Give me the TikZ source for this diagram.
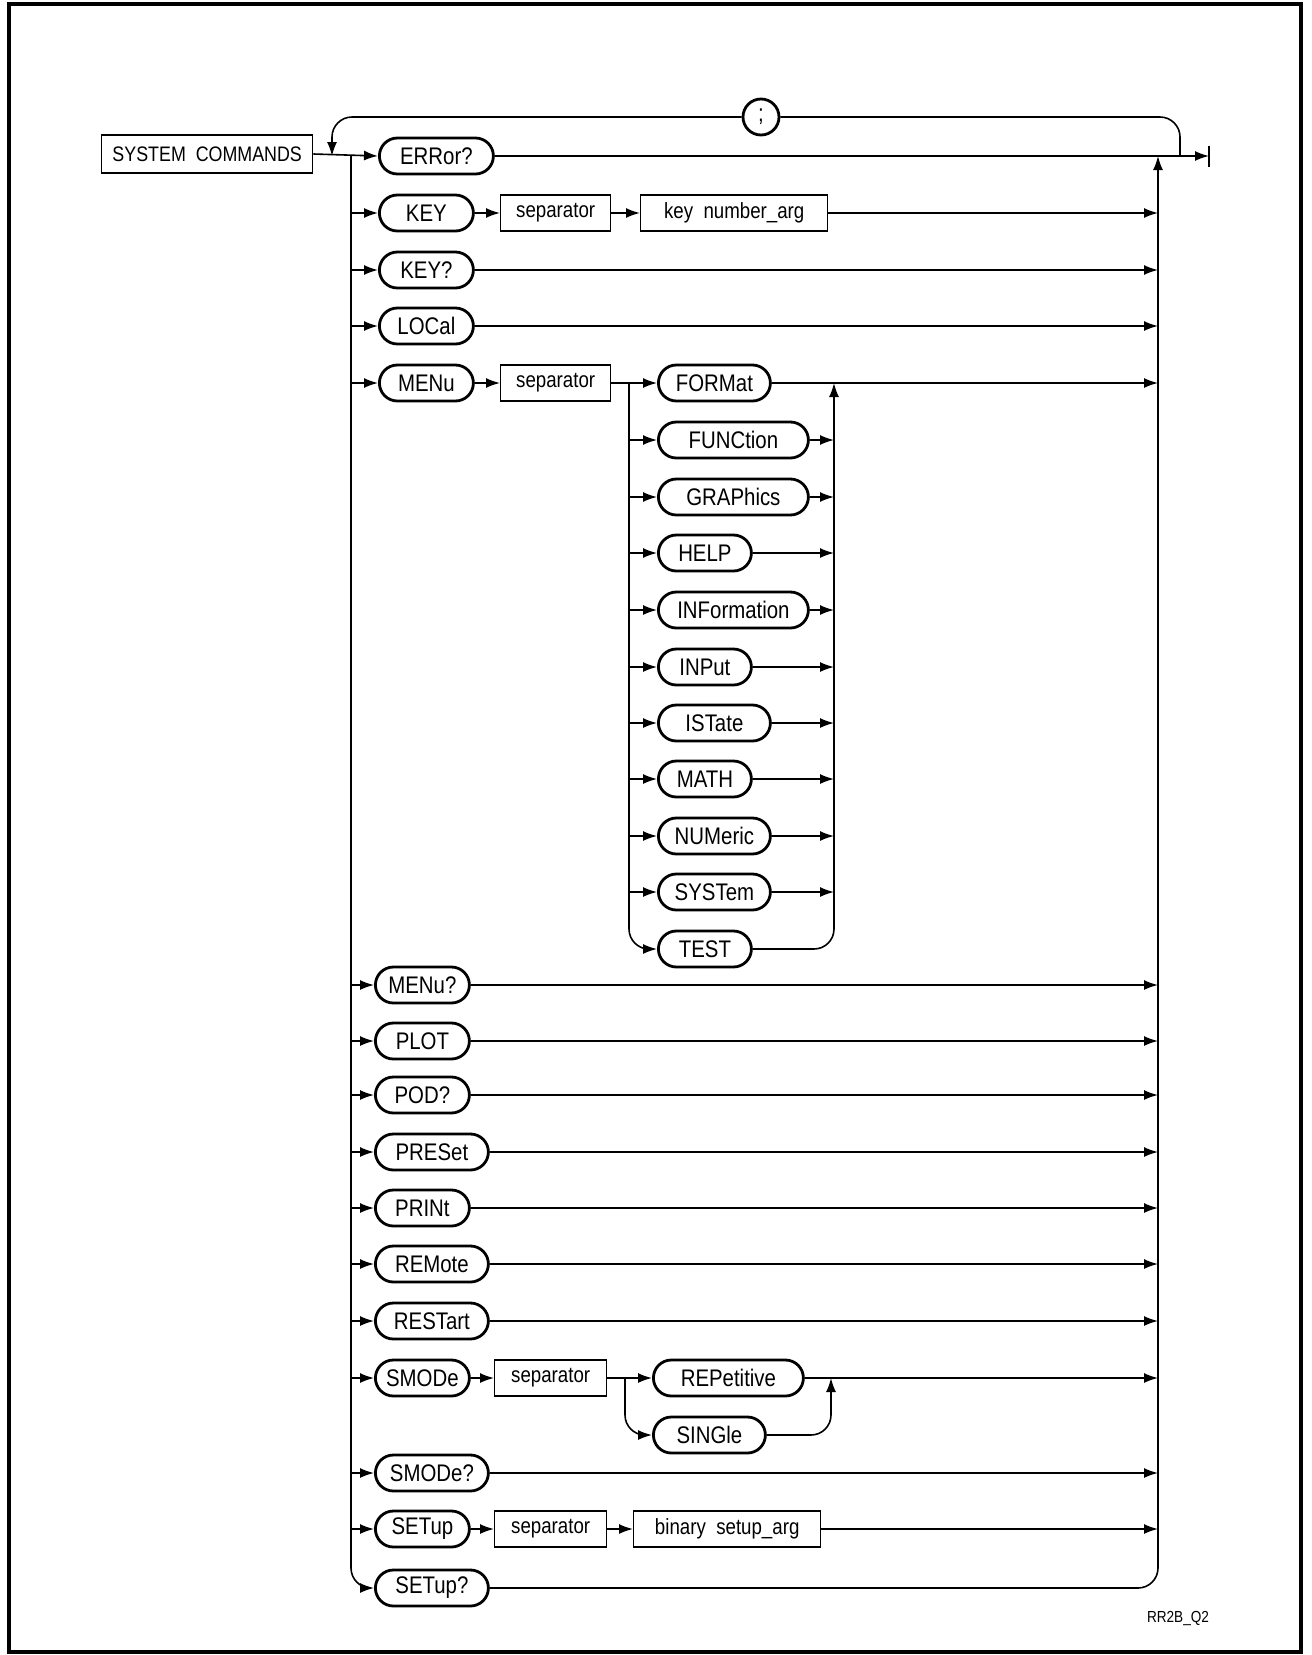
\documentclass[tikz,border=0pt]{standalone}
\usepackage{fontspec}
\setmainfont{Liberation Sans}[FakeStretch=0.85]
\usetikzlibrary{arrows.meta}
\tikzset{
  arr/.style={-{Latex[length=7pt,width=5pt]}, line width=0.8pt},
  ln/.style={line width=0.8pt},
  term/.style={draw, rounded corners=9pt, minimum height=18pt, inner sep=0pt,
    line width=1.4pt, anchor=west, font=\fontsize{12}{14}\selectfont},
  sbox/.style={draw, rectangle, minimum height=18pt, inner sep=0pt,
    line width=0.7pt, anchor=west, font=\fontsize{11}{13}\selectfont},
}
\begin{document}
\begin{tikzpicture}[x=0.5pt,y=-0.5pt]
\useasboundingbox (0,0) rectangle (1312,1655);
\draw[line width=2pt] (9,4) rectangle (1301,1652);

% start box
\node[sbox, minimum width=105.5pt, minimum height=19pt, font=\fontsize{10.5}{12}\selectfont] (sys) at (101,154) {SYSTEM~~COMMANDS};

% coordinates of main structure
\coordinate (loopL) at (332,156);
\coordinate (bL) at (351,156);
\coordinate (bR) at (1158,156);
\coordinate (loopR) at (1180,156);
\coordinate (endp) at (1209,156);

% top-level terminals
\node[term, minimum width=57pt] (err) at (378,156) {ERRor?};
\node[term, minimum width=47pt] (key) at (378,213) {KEY};
\node[term, minimum width=47pt] (keyq) at (378,270) {KEY?};
\node[term, minimum width=47pt] (loc) at (378,326) {LOCal};
\node[term, minimum width=47pt] (menu) at (378,383) {MENu};
\node[term, minimum width=47pt] (menuq) at (374,985) {MENu?};
\node[term, minimum width=47pt] (plot) at (374,1041) {PLOT};
\node[term, minimum width=47pt] (pod) at (374,1095) {POD?};
\node[term, minimum width=56.5pt] (preset) at (374,1152) {PRESet};
\node[term, minimum width=47pt] (print) at (374,1208) {PRINt};
\node[term, minimum width=56.5pt] (remote) at (374,1264) {REMote};
\node[term, minimum width=56.5pt] (restart) at (374,1321) {RESTart};
\node[term, minimum width=47pt] (smode) at (374,1378) {SMODe};
\node[term, minimum width=56.5pt] (smodeq) at (374,1473) {SMODe?};
\node[term, minimum width=47pt] (setup) at (374,1529) {SETup};
\node[term, minimum width=56.5pt] (setupq) at (374,1588) {SETup?};

% boxes
\node[sbox, minimum width=55pt] (sepa) at (500,213) {separator};
\node[sbox, minimum width=93.5pt] (keyarg) at (640,213) {key~~number\_arg};
\node[sbox, minimum width=55pt] (sepb) at (500,383) {separator};
\node[sbox, minimum width=56pt] (sepc) at (494,1378) {separator};
\node[sbox, minimum width=56pt] (sepd) at (494,1529) {separator};
\node[sbox, minimum width=93.5pt] (binarg) at (633,1529) {binary~~setup\_arg};

% MENu sub terminals
\coordinate (sL) at (629,383);
\coordinate (sR) at (834,383);
\node[term, minimum width=56pt] (format) at (657,383) {FORMat};
\node[term, minimum width=75pt] (function) at (657,440) {FUNCtion};
\node[term, minimum width=75pt] (graphics) at (657,497) {GRAPhics};
\node[term, minimum width=46.5pt] (help) at (657,553) {HELP};
\node[term, minimum width=75pt] (information) at (657,610) {INFormation};
\node[term, minimum width=46.5pt] (input) at (657,667) {INPut};
\node[term, minimum width=56pt] (istate) at (657,723) {ISTate};
\node[term, minimum width=46.5pt] (math) at (657,779) {MATH};
\node[term, minimum width=56pt] (numeric) at (657,836) {NUMeric};
\node[term, minimum width=56pt] (system) at (657,892) {SYSTem};
\node[term, minimum width=46.5pt] (test) at (657,949) {TEST};

% SMODe sub terminals
\coordinate (mL) at (625,1378);
\coordinate (mR) at (831,1378);
\node[term, minimum width=75pt] (rep) at (652,1378) {REPetitive};
\node[term, minimum width=56pt] (single) at (652,1435) {SINGle};

% loop separator
\node[draw, circle, minimum size=18pt, inner sep=0pt, line width=1.4pt,
  font=\fontsize{12}{14}\selectfont] (semi) at (761,117) {;};

% main line and loop
\draw[arr] (sys.east) -- (err.west);
\draw[arr] (err.east) -- (endp);
\draw[line width=1pt] (endp) ++(0,-10) -- ++(0,21);
\draw[ln, rounded corners=10pt] (loopR) |- (semi.east);
\draw[arr, rounded corners=10pt] (semi.west) -| (loopL);

% left branch
\draw[arr, rounded corners=10pt] (bL) -- (bL |- setupq) -- (setupq.west);
\foreach \n in {key,keyq,loc,menu,menuq,plot,pod,preset,print,remote,restart,smode,smodeq,setup}
  \draw[arr] (bL |- \n) -- (\n.west);

% right collector
\draw[arr, rounded corners=10pt] (setupq.east) -| (bR);
\foreach \n in {keyarg,keyq,loc,format,menuq,plot,pod,preset,print,remote,restart,rep,smodeq,binarg}
  \draw[arr] (\n.east) -- (bR |- \n);

% KEY row
\draw[arr] (key.east) -- (sepa.west);
\draw[arr] (sepa.east) -- (keyarg.west);

% MENu row
\draw[arr] (menu.east) -- (sepb.west);
\draw[arr] (sepb.east) -- (format.west);
\draw[arr, rounded corners=10pt] (sL) |- (test.west);
\foreach \n in {function,graphics,help,information,input,istate,math,numeric,system}
  \draw[arr] (sL |- \n) -- (\n.west);
\draw[arr, rounded corners=10pt] (test.east) -| (sR);
\foreach \n in {function,graphics,help,information,input,istate,math,numeric,system}
  \draw[arr] (\n.east) -- (sR |- \n);

% SMODe row
\draw[arr] (smode.east) -- (sepc.west);
\draw[arr] (sepc.east) -- (rep.west);
\draw[arr, rounded corners=10pt] (mL) |- (single.west);
\draw[arr, rounded corners=10pt] (single.east) -| (mR);

% SETup row
\draw[arr] (setup.east) -- (sepd.west);
\draw[arr] (sepd.east) -- (binarg.west);

\node[font=\fontsize{8}{10}\selectfont, inner sep=0pt] (code) at (1178,1618) {RR2B\_Q2};
\end{tikzpicture}
\end{document}
